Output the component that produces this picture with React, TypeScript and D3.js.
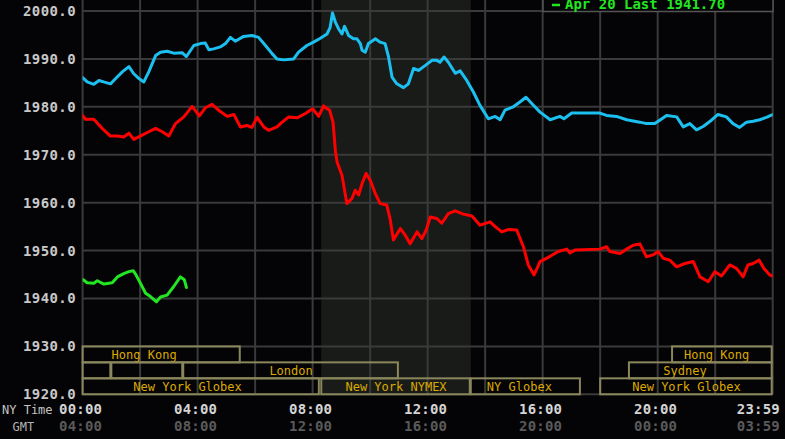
import React from "react";
import * as d3 from "d3";

const W = 785;
const H = 439;

const yTicks = [1920, 1930, 1940, 1950, 1960, 1970, 1980, 1990, 2000];
const xGridHours = [0, 2, 4, 6, 8, 10, 12, 14, 16, 18, 20, 22, 24];
const xLabelHours = [0, 4, 8, 12, 16, 20, 24];
const nyLabels = ["00:00", "04:00", "08:00", "12:00", "16:00", "20:00", "23:59"];
const gmtLabels = ["04:00", "08:00", "12:00", "16:00", "20:00", "00:00", "03:59"];

const legendText = "Apr 20 Last 1941.70";

// NYMEX pit session (shaded)
const shadeHours: [number, number] = [8.3, 13.5];

// [hour NY time, price]
const cyanSeries: [number, number][] = [
  [0.0, 1986.1], [0.16, 1985.2], [0.39, 1984.7], [0.57, 1985.5], [0.73, 1985.2], [0.97, 1984.8],
  [1.15, 1985.9], [1.38, 1987.3], [1.61, 1988.4], [1.78, 1986.9], [1.96, 1985.9], [2.13, 1985.2],
  [2.3, 1987.3], [2.54, 1990.7], [2.71, 1991.4], [2.94, 1991.6], [3.17, 1991.2], [3.46, 1991.3],
  [3.61, 1990.5], [3.87, 1992.8], [4.1, 1993.2], [4.27, 1993.3], [4.39, 1991.9], [4.56, 1992.1],
  [4.79, 1992.5], [4.97, 1993.2], [5.14, 1994.5], [5.31, 1993.7], [5.6, 1994.7], [5.89, 1994.9],
  [6.12, 1994.5], [6.36, 1992.8], [6.59, 1991.1], [6.76, 1990.0], [6.99, 1989.8], [7.34, 1990.0],
  [7.51, 1991.4], [7.8, 1992.8], [8.03, 1993.5], [8.27, 1994.3], [8.5, 1995.2], [8.61, 1996.6],
  [8.69, 1999.6], [8.79, 1997.7], [8.9, 1996.3], [9.02, 1995.2], [9.11, 1996.8], [9.25, 1994.9],
  [9.42, 1994.2], [9.54, 1994.2], [9.66, 1993.2], [9.72, 1991.8], [9.83, 1991.4], [9.94, 1993.2],
  [10.06, 1993.7], [10.18, 1994.2], [10.35, 1993.5], [10.52, 1993.2], [10.64, 1990.4], [10.76, 1986.2],
  [10.93, 1984.8], [11.16, 1984.0], [11.33, 1984.8], [11.51, 1988.0], [11.68, 1987.6], [11.91, 1988.6],
  [12.15, 1989.7], [12.32, 1989.7], [12.43, 1989.3], [12.57, 1990.4], [12.72, 1989.3], [12.96, 1987.0],
  [13.13, 1987.5], [13.36, 1985.5], [13.59, 1983.1], [13.82, 1980.3], [14.11, 1977.5], [14.35, 1978.0],
  [14.52, 1977.3], [14.69, 1979.3], [14.98, 1980.0], [15.21, 1981.0], [15.42, 1982.0], [15.62, 1980.7],
  [15.91, 1978.9], [16.26, 1977.3], [16.6, 1978.0], [16.74, 1977.5], [17.01, 1978.7], [17.99, 1978.7],
  [18.22, 1978.2], [18.57, 1978.0], [18.92, 1977.3], [19.38, 1976.8], [19.61, 1976.5], [19.9, 1976.5],
  [20.07, 1977.2], [20.31, 1978.2], [20.66, 1977.9], [20.89, 1975.8], [21.12, 1976.5], [21.35, 1975.2],
  [21.58, 1975.9], [21.87, 1977.2], [22.1, 1978.4], [22.39, 1977.9], [22.62, 1976.5], [22.85, 1975.7],
  [23.09, 1976.8], [23.32, 1977.0], [23.55, 1977.3], [23.78, 1977.8], [24.0, 1978.4],
];

const redSeries: [number, number][] = [
  [0.0, 1978.2], [0.1, 1977.4], [0.39, 1977.4], [0.68, 1975.5], [0.97, 1973.9], [1.21, 1973.9],
  [1.43, 1973.7], [1.61, 1974.5], [1.78, 1973.2], [2.07, 1974.1], [2.3, 1974.8], [2.54, 1975.5],
  [2.77, 1974.8], [3.0, 1973.9], [3.23, 1976.5], [3.52, 1977.9], [3.81, 1980.1], [4.06, 1978.1],
  [4.27, 1979.8], [4.5, 1980.5], [4.73, 1979.3], [5.03, 1978.0], [5.26, 1978.4], [5.49, 1975.8],
  [5.72, 1976.1], [5.89, 1975.7], [6.07, 1977.8], [6.3, 1975.8], [6.47, 1975.1], [6.76, 1975.8],
  [6.94, 1976.8], [7.17, 1977.9], [7.46, 1977.7], [7.75, 1978.6], [8.0, 1979.6], [8.21, 1978.0],
  [8.38, 1980.2], [8.5, 1979.6], [8.59, 1979.3], [8.71, 1976.8], [8.79, 1970.9], [8.85, 1968.5],
  [9.02, 1965.7], [9.19, 1959.8], [9.37, 1960.9], [9.48, 1962.6], [9.6, 1961.6], [9.72, 1964.0],
  [9.86, 1966.1], [10.0, 1964.7], [10.18, 1961.9], [10.35, 1959.8], [10.58, 1959.5], [10.7, 1956.4],
  [10.81, 1952.2], [11.05, 1954.6], [11.22, 1953.2], [11.39, 1951.4], [11.63, 1953.9], [11.8, 1952.5],
  [11.95, 1954.3], [12.09, 1957.0], [12.32, 1956.7], [12.49, 1955.7], [12.72, 1957.7], [12.96, 1958.3],
  [13.24, 1957.6], [13.54, 1957.2], [13.82, 1955.3], [14.17, 1956.0], [14.35, 1955.0], [14.58, 1953.9],
  [14.81, 1954.4], [15.1, 1954.3], [15.33, 1950.8], [15.5, 1947.0], [15.7, 1944.9], [15.91, 1947.7],
  [16.26, 1948.8], [16.54, 1949.8], [16.84, 1950.3], [16.95, 1949.5], [17.12, 1950.1], [17.99, 1950.3],
  [18.22, 1950.8], [18.34, 1949.8], [18.69, 1949.4], [18.92, 1950.3], [19.15, 1951.1], [19.38, 1951.4],
  [19.61, 1948.7], [19.84, 1949.1], [20.02, 1949.8], [20.19, 1948.4], [20.42, 1948.0], [20.66, 1946.6],
  [20.95, 1947.3], [21.24, 1947.7], [21.47, 1944.5], [21.76, 1943.5], [21.99, 1945.6], [22.22, 1944.7],
  [22.51, 1947.0], [22.74, 1946.3], [22.97, 1944.5], [23.14, 1947.0], [23.32, 1947.3], [23.53, 1948.0],
  [23.69, 1946.3], [23.9, 1944.9], [24.0, 1944.7],
];

const greenSeries: [number, number][] = [
  [0.02, 1943.9], [0.16, 1943.3], [0.39, 1943.2], [0.51, 1943.7], [0.74, 1943.0], [1.03, 1943.3],
  [1.21, 1944.5], [1.43, 1945.2], [1.61, 1945.6], [1.76, 1945.8], [1.84, 1945.1], [2.01, 1943.2],
  [2.19, 1941.1], [2.36, 1940.4], [2.57, 1939.3], [2.71, 1940.3], [2.94, 1940.7], [3.17, 1942.5],
  [3.4, 1944.5], [3.54, 1943.9], [3.61, 1942.3],
];

type Session = { label: string; row: number; start: number; end: number; labelAt?: number };
const sessions: Session[] = [
  { label: "Hong Kong", row: 0, start: 0, end: 5.5, labelAt: 2.14 },
  { label: "Hong Kong", row: 0, start: 20.5, end: 24, labelAt: 22.05 },
  { label: "", row: 1, start: 0, end: 1 },
  { label: "", row: 1, start: 1, end: 3.5 },
  { label: "London", row: 1, start: 3.5, end: 11 },
  { label: "Sydney", row: 1, start: 19, end: 24, labelAt: 20.95 },
  { label: "New York Globex", row: 2, start: 0, end: 8.25, labelAt: 3.65 },
  { label: "New York NYMEX", row: 2, start: 8.3, end: 13.5 },
  { label: "NY Globex", row: 2, start: 13.5, end: 17.33, labelAt: 15.19 },
  { label: "New York Globex", row: 2, start: 18, end: 24 },
];

const MONO = "'DejaVu Sans Mono', 'Liberation Mono', monospace";

export default function App() {
  const x = d3.scaleLinear().domain([0, 24]).range([82.6, 772.7]);
  const y = d3.scaleLinear().domain([1920, 2000]).range([394.3, 11]);
  const plotTop = 0;
  const plotBottom = y(1920);
  const line = d3
    .line<[number, number]>()
    .x((d) => x(d[0]))
    .y((d) => y(d[1]))
    .curve(d3.curveLinear);

  const rowTop = y(1930);
  const rowH = (y(1920) - y(1930)) / 3;

  return (
    <svg
      width={W}
      height={H}
      style={{ position: "fixed", left: 0, top: 0, display: "block" }}
      xmlns="http://www.w3.org/2000/svg"
    >
      <defs>
        <clipPath id="plotClip">
          <rect x={x(0)} y={plotTop} width={x(24) - x(0)} height={plotBottom - plotTop} />
        </clipPath>
      </defs>
      <rect x={0} y={0} width={W} height={H} fill="#040406" />
      {/* shaded NYMEX session */}
      <rect
        x={x(shadeHours[0])}
        y={plotTop}
        width={x(shadeHours[1]) - x(shadeHours[0])}
        height={plotBottom - plotTop}
        fill="#191b18"
      />
      {/* grid */}
      {yTicks.map((t) => (
        <line key={"hy" + t} x1={x(0)} x2={x(24)} y1={y(t)} y2={y(t)} stroke="#3a3a3a" strokeWidth={2} />
      ))}
      {xGridHours.map((h) => (
        <line key={"vx" + h} x1={x(h)} x2={x(h)} y1={plotTop} y2={plotBottom} stroke="#3a3a3a" strokeWidth={2} />
      ))}
      {/* sessions */}
      {sessions.map((s, i) => {
        const x0 = x(s.start);
        const x1 = x(s.end);
        const top = rowTop + s.row * rowH;
        const cx = x(s.labelAt !== undefined ? s.labelAt : (s.start + s.end) / 2);
        return (
          <g key={"s" + i}>
            <rect
              x={x0}
              y={top}
              width={x1 - x0 - 1}
              height={rowH}
              fill="none"
              stroke="#8a875c"
              strokeWidth={2}
            />
            {s.label && (
              <text
                x={cx}
                y={top + 12.5}
                textAnchor="middle"
                fontFamily={MONO}
                fontSize={12}
                fill="#dcaa00"
              >
                {s.label}
              </text>
            )}
          </g>
        );
      })}
      {/* series */}
      <g clipPath="url(#plotClip)" fill="none" strokeLinejoin="round" strokeLinecap="round">
        <path d={line(cyanSeries) || ""} stroke="#1cc0f0" strokeWidth={3} />
        <path d={line(redSeries) || ""} stroke="#ff0000" strokeWidth={3} />
        <path d={line(greenSeries) || ""} stroke="#22e622" strokeWidth={3} />
      </g>
      {/* legend box (cut off at top) */}
      <rect x={543} y={-10} width={230} height={21.5} fill="#040406" stroke="#555555" strokeWidth={1.5} />
      <line x1={552} x2={560} y1={5} y2={5} stroke="#22e622" strokeWidth={2.5} />
      <text x={565} y={8.5} fontFamily={MONO} fontWeight="bold" fontSize={14} fill="#22e622">
        {legendText}
      </text>
      {/* y axis labels */}
      {yTicks.map((t) => (
        <text
          key={"yl" + t}
          x={76}
          y={y(t) + 5}
          textAnchor="end"
          fontFamily={MONO}
          fontWeight="bold"
          fontSize={14}
          letterSpacing={0.4}
          fill="#c8c8c8"
        >
          {t.toFixed(1)}
        </text>
      ))}
      {/* x axis labels */}
      <text x={2} y={413.5} fontFamily={MONO} fontSize={12} fill="#c4c4c4">
        NY Time
      </text>
      <text x={12.5} y={430.5} fontFamily={MONO} fontSize={12} fill="#b4b4b4">
        GMT
      </text>
      {xLabelHours.map((h, i) => {
        const last = i === xLabelHours.length - 1;
        const px = last ? 780 : x(h) - 2;
        const anchor = last ? "end" : "middle";
        return (
          <g key={"xl" + h}>
            <text
              x={px}
              y={413.5}
              textAnchor={anchor}
              fontFamily={MONO}
              fontWeight="bold"
              fontSize={14}
              letterSpacing={0.2}
              fill="#d4d4d4"
            >
              {nyLabels[i]}
            </text>
            <text
              x={px}
              y={430.5}
              textAnchor={anchor}
              fontFamily={MONO}
              fontWeight="bold"
              fontSize={14}
              letterSpacing={0.2}
              fill="#5a5a5a"
            >
              {gmtLabels[i]}
            </text>
          </g>
        );
      })}
    </svg>
  );
}
